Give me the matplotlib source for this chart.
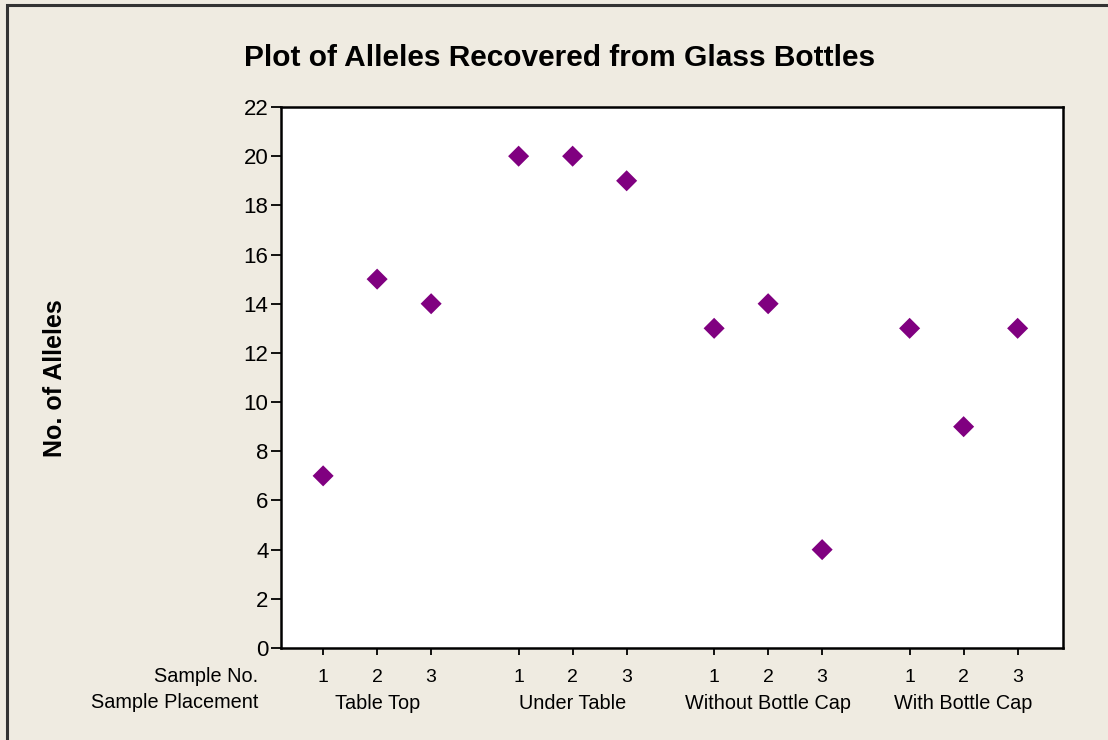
import matplotlib
matplotlib.use("Agg")
import matplotlib.pyplot as plt
from matplotlib.patches import Rectangle

plt.rcParams['font.family'] = ['Liberation Sans', 'DejaVu Sans']

placements = ["Table Top", "Under Table", "Without Bottle Cap", "With Bottle Cap"]
sample_nos = [1, 2, 3]
table_top = [7, 15, 14]
under_table = [20, 20, 19]
without_cap = [13, 14, 4]
with_cap = [13, 9, 13]
series = [table_top, under_table, without_cap, with_cap]
y_ticks = list(range(0, 23, 2))

bg = "#efebe1"
purple = "#800080"
group_gap = 3.62

fig = plt.figure(figsize=(11.08, 7.40), dpi=100, facecolor=bg)
fig.patches.append(Rectangle((7/1108, -0.1), 1.2, 1 - 5/740 + 0.1, transform=fig.transFigure,
                             fill=False, edgecolor="#333333", linewidth=2.2, zorder=0))

ax = fig.add_axes([281/1108, 1 - 648/740, (1063 - 281)/1108, (648 - 107)/740])
ax.set_facecolor("white")

xs, ys, ticklabels = [], [], []
for g, vals in enumerate(series):
    for s, v in zip(sample_nos, vals):
        x = g * group_gap + (s - 1)
        xs.append(x)
        ys.append(v)
        ticklabels.append(str(s))

ax.scatter(xs, ys, marker="D", s=115, color=purple, edgecolors="none", zorder=3)

ax.set_xlim(-0.78, 13.70)
ax.set_ylim(0, 22)
ax.set_yticks(y_ticks)
ax.set_yticklabels([str(t) for t in y_ticks], fontsize=16)
ax.set_xticks(xs)
ax.set_xticklabels(ticklabels, fontsize=14)
ax.tick_params(axis="y", direction="out", length=7, width=1.3, pad=2)
ax.tick_params(axis="x", direction="out", length=5, width=1.3, pad=10)
for sp in ax.spines.values():
    sp.set_linewidth(1.8)
    sp.set_color("black")

trans = ax.get_xaxis_transform()
for g, name in enumerate(placements):
    cx = g * group_gap + 1
    ax.text(cx, -0.102, name, transform=trans, ha="center", va="center", fontsize=14.3)

fig.text(258/1108, 1 - 676/740, "Sample No.", ha="right", va="center", fontsize=14.3)
fig.text(258/1108, 1 - 703/740, "Sample Placement", ha="right", va="center", fontsize=14.3)

fig.text(560/1108, 1 - 58/740, "Plot of Alleles Recovered from Glass Bottles",
         ha="center", va="center", fontsize=21.5, fontweight="bold")
fig.text(55/1108, 1 - 378/740, "No. of Alleles", rotation=90, ha="center", va="center",
         fontsize=18, fontweight="bold")

fig.savefig("out.png", dpi=100, facecolor=bg)
